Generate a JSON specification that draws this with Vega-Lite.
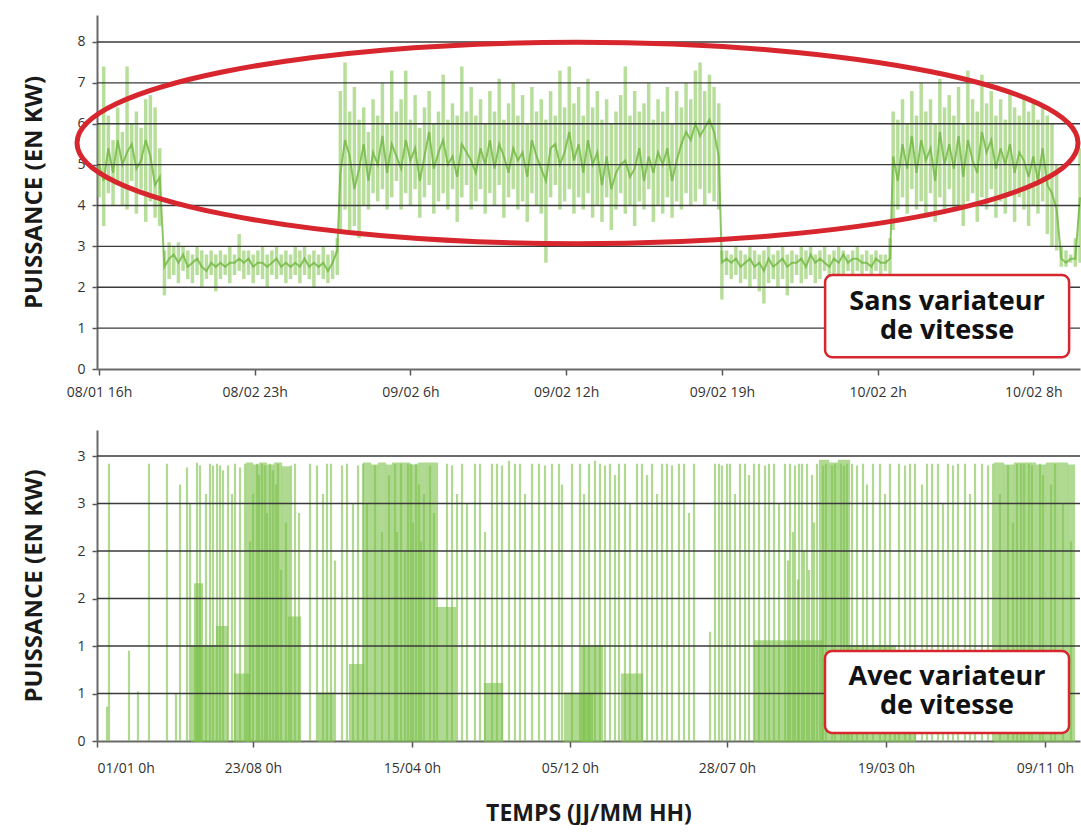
{
  "$schema": "https://vega.github.io/schema/vega-lite/v6.json",
  "padding": {"top": 15, "left": 22, "right": 0, "bottom": 0},
  "spacing": 31,
  "datasets": {
    "sans": [
      {"t":0,"lo":4.2,"hi":6.0,"v":5.0},{"t":3,"lo":3.5,"hi":7.4,"v":4.6},{"t":6,"lo":4.3,"hi":6.2,"v":5.4},{"t":9,"lo":4.0,"hi":5.6,"v":4.8},{"t":12,"lo":4.5,"hi":6.4,"v":5.6},{"t":15,"lo":4.0,"hi":5.8,"v":5.0},{"t":18,"lo":3.9,"hi":7.4,"v":5.3},{"t":21,"lo":4.6,"hi":6.0,"v":5.5},{"t":24,"lo":3.8,"hi":6.3,"v":4.9},{"t":27,"lo":4.4,"hi":5.9,"v":5.1},{"t":30,"lo":3.6,"hi":6.6,"v":5.6},{"t":33,"lo":4.1,"hi":6.7,"v":5.2},{"t":36,"lo":3.7,"hi":6.4,"v":4.5},{"t":39,"lo":3.5,"hi":5.4,"v":4.7},
      {"t":42,"lo":1.8,"hi":2.9,"v":2.5},{"t":45,"lo":2.2,"hi":3.1,"v":2.7},{"t":48,"lo":2.3,"hi":3.0,"v":2.8},{"t":51,"lo":2.1,"hi":3.1,"v":2.6},{"t":54,"lo":2.4,"hi":3.0,"v":2.8},{"t":57,"lo":2.2,"hi":2.9,"v":2.5},{"t":60,"lo":2.1,"hi":2.8,"v":2.6},{"t":63,"lo":2.3,"hi":3.0,"v":2.7},{"t":66,"lo":2.0,"hi":2.9,"v":2.5},{"t":69,"lo":2.2,"hi":2.8,"v":2.4},{"t":72,"lo":2.3,"hi":2.9,"v":2.6},{"t":75,"lo":1.9,"hi":2.8,"v":2.5},{"t":78,"lo":2.2,"hi":2.9,"v":2.6},{"t":81,"lo":2.3,"hi":2.8,"v":2.5},{"t":84,"lo":2.1,"hi":3.0,"v":2.6},{"t":87,"lo":2.3,"hi":2.8,"v":2.6},{"t":90,"lo":2.4,"hi":3.3,"v":2.7},{"t":93,"lo":2.2,"hi":2.9,"v":2.6},{"t":96,"lo":2.3,"hi":2.9,"v":2.7},{"t":99,"lo":2.1,"hi":2.8,"v":2.5},{"t":102,"lo":2.3,"hi":2.9,"v":2.6},{"t":105,"lo":2.2,"hi":3.0,"v":2.6},{"t":108,"lo":2.0,"hi":2.8,"v":2.5},{"t":111,"lo":2.3,"hi":2.9,"v":2.6},{"t":114,"lo":2.2,"hi":3.0,"v":2.7},{"t":117,"lo":2.3,"hi":2.8,"v":2.5},{"t":120,"lo":2.1,"hi":2.9,"v":2.6},{"t":123,"lo":2.2,"hi":2.8,"v":2.5},{"t":126,"lo":2.3,"hi":3.0,"v":2.6},{"t":129,"lo":2.1,"hi":2.9,"v":2.5},{"t":132,"lo":2.3,"hi":3.0,"v":2.7},{"t":135,"lo":2.2,"hi":2.8,"v":2.5},{"t":138,"lo":2.0,"hi":2.9,"v":2.6},{"t":141,"lo":2.3,"hi":2.8,"v":2.5},{"t":144,"lo":2.2,"hi":3.0,"v":2.6},{"t":147,"lo":2.1,"hi":2.8,"v":2.4},{"t":150,"lo":2.2,"hi":2.9,"v":2.6},{"t":153,"lo":2.3,"hi":3.2,"v":2.9},
      {"t":155,"lo":3.3,"hi":6.8,"v":4.8},{"t":158,"lo":3.9,"hi":7.5,"v":5.6},{"t":161,"lo":3.4,"hi":6.3,"v":5.2},{"t":164,"lo":3.5,"hi":6.9,"v":4.4},{"t":167,"lo":3.2,"hi":6.1,"v":4.9},{"t":170,"lo":4.0,"hi":6.4,"v":5.5},{"t":173,"lo":3.9,"hi":5.8,"v":4.6},{"t":176,"lo":4.3,"hi":6.6,"v":5.3},{"t":179,"lo":4.1,"hi":6.2,"v":5.0},{"t":182,"lo":4.4,"hi":7.0,"v":5.7},{"t":185,"lo":3.9,"hi":6.0,"v":4.8},{"t":188,"lo":4.2,"hi":7.3,"v":5.5},{"t":191,"lo":4.6,"hi":6.3,"v":5.2},{"t":194,"lo":3.9,"hi":6.6,"v":4.9},{"t":197,"lo":4.3,"hi":7.3,"v":5.6},{"t":200,"lo":4.0,"hi":6.1,"v":5.1},{"t":203,"lo":4.4,"hi":6.7,"v":5.4},{"t":206,"lo":3.7,"hi":5.9,"v":4.6},{"t":209,"lo":4.2,"hi":6.4,"v":5.2},{"t":212,"lo":4.5,"hi":6.8,"v":5.8},{"t":215,"lo":3.8,"hi":6.0,"v":4.9},{"t":218,"lo":4.1,"hi":6.3,"v":5.3},{"t":221,"lo":4.3,"hi":7.2,"v":5.6},{"t":224,"lo":3.9,"hi":6.1,"v":5.0},{"t":227,"lo":4.4,"hi":6.5,"v":5.2},{"t":230,"lo":3.6,"hi":6.2,"v":4.7},{"t":233,"lo":4.2,"hi":7.4,"v":5.5},{"t":236,"lo":4.5,"hi":6.3,"v":5.3},{"t":239,"lo":3.9,"hi":6.9,"v":5.1},{"t":242,"lo":4.1,"hi":6.2,"v":4.8},{"t":245,"lo":4.4,"hi":6.6,"v":5.4},{"t":248,"lo":3.8,"hi":6.0,"v":5.0},{"t":251,"lo":4.3,"hi":6.8,"v":5.6},{"t":254,"lo":4.0,"hi":6.3,"v":4.9},{"t":257,"lo":4.5,"hi":7.1,"v":5.5},{"t":260,"lo":3.7,"hi":6.1,"v":5.2},{"t":263,"lo":4.2,"hi":6.5,"v":4.8},{"t":266,"lo":4.4,"hi":7.0,"v":5.4},{"t":269,"lo":3.9,"hi":6.2,"v":5.1},{"t":272,"lo":4.1,"hi":6.7,"v":5.3},{"t":275,"lo":3.6,"hi":6.0,"v":4.7},{"t":278,"lo":4.3,"hi":6.9,"v":5.6},{"t":281,"lo":4.0,"hi":6.3,"v":5.2},{"t":284,"lo":3.8,"hi":6.6,"v":4.9},{"t":287,"lo":2.6,"hi":6.1,"v":4.6},{"t":290,"lo":4.2,"hi":6.8,"v":5.4},{"t":293,"lo":4.5,"hi":6.2,"v":5.5},{"t":296,"lo":3.9,"hi":7.3,"v":5.0},{"t":299,"lo":4.1,"hi":6.4,"v":5.3},{"t":302,"lo":4.4,"hi":7.4,"v":5.8},{"t":305,"lo":3.8,"hi":6.5,"v":5.1},{"t":308,"lo":4.2,"hi":6.9,"v":5.5},{"t":311,"lo":3.9,"hi":6.2,"v":4.8},{"t":314,"lo":4.3,"hi":7.1,"v":5.6},{"t":317,"lo":3.7,"hi":6.4,"v":5.0},{"t":320,"lo":4.0,"hi":6.8,"v":5.3},{"t":323,"lo":3.6,"hi":6.1,"v":4.5},{"t":326,"lo":4.2,"hi":6.6,"v":5.2},{"t":329,"lo":3.4,"hi":6.0,"v":4.4},{"t":332,"lo":3.9,"hi":6.3,"v":4.8},{"t":335,"lo":4.3,"hi":6.7,"v":5.0},{"t":338,"lo":3.8,"hi":7.4,"v":5.1},{"t":341,"lo":4.0,"hi":6.2,"v":4.7},{"t":344,"lo":3.5,"hi":6.8,"v":4.9},{"t":347,"lo":4.1,"hi":6.3,"v":5.4},{"t":350,"lo":3.9,"hi":6.5,"v":4.6},{"t":353,"lo":4.4,"hi":7.0,"v":5.2},{"t":356,"lo":3.6,"hi":6.1,"v":4.8},{"t":359,"lo":4.0,"hi":6.6,"v":5.3},{"t":362,"lo":3.8,"hi":6.3,"v":5.0},{"t":365,"lo":4.2,"hi":6.9,"v":5.4},{"t":368,"lo":3.7,"hi":6.0,"v":4.6},{"t":371,"lo":4.1,"hi":6.8,"v":5.1},{"t":374,"lo":3.9,"hi":6.4,"v":5.5},{"t":377,"lo":4.3,"hi":7.0,"v":5.8},{"t":380,"lo":4.0,"hi":6.6,"v":5.6},{"t":383,"lo":4.1,"hi":7.3,"v":6.0},{"t":386,"lo":4.4,"hi":7.5,"v":5.7},{"t":389,"lo":4.0,"hi":6.8,"v":5.9},{"t":392,"lo":4.3,"hi":7.2,"v":6.1},{"t":395,"lo":4.1,"hi":6.9,"v":5.8},{"t":398,"lo":3.9,"hi":6.5,"v":5.2},
      {"t":400,"lo":1.7,"hi":2.9,"v":2.6},{"t":403,"lo":2.3,"hi":2.9,"v":2.7},{"t":406,"lo":2.2,"hi":2.8,"v":2.6},{"t":409,"lo":2.3,"hi":3.0,"v":2.7},{"t":412,"lo":2.1,"hi":2.9,"v":2.5},{"t":415,"lo":2.2,"hi":2.8,"v":2.6},{"t":418,"lo":2.0,"hi":3.0,"v":2.7},{"t":421,"lo":2.2,"hi":2.9,"v":2.5},{"t":424,"lo":1.9,"hi":2.8,"v":2.6},{"t":427,"lo":1.6,"hi":2.9,"v":2.4},{"t":430,"lo":2.1,"hi":3.0,"v":2.7},{"t":433,"lo":2.2,"hi":2.8,"v":2.5},{"t":436,"lo":2.0,"hi":2.9,"v":2.6},{"t":439,"lo":2.2,"hi":3.0,"v":2.7},{"t":442,"lo":1.8,"hi":2.8,"v":2.5},{"t":445,"lo":2.1,"hi":2.9,"v":2.6},{"t":448,"lo":2.3,"hi":2.8,"v":2.6},{"t":451,"lo":2.1,"hi":3.0,"v":2.7},{"t":454,"lo":2.2,"hi":2.9,"v":2.5},{"t":457,"lo":2.3,"hi":3.0,"v":2.8},{"t":460,"lo":2.1,"hi":2.8,"v":2.6},{"t":463,"lo":2.2,"hi":2.9,"v":2.7},{"t":466,"lo":2.4,"hi":3.0,"v":2.6},{"t":469,"lo":2.2,"hi":2.8,"v":2.5},{"t":472,"lo":2.3,"hi":2.9,"v":2.7},{"t":475,"lo":2.1,"hi":3.0,"v":2.6},{"t":478,"lo":2.3,"hi":2.9,"v":2.8},{"t":481,"lo":2.4,"hi":2.8,"v":2.6},{"t":484,"lo":2.2,"hi":2.9,"v":2.7},{"t":487,"lo":2.4,"hi":3.0,"v":2.7},{"t":490,"lo":2.3,"hi":2.8,"v":2.6},{"t":493,"lo":2.4,"hi":2.9,"v":2.6},{"t":496,"lo":2.3,"hi":2.8,"v":2.5},{"t":499,"lo":2.4,"hi":2.9,"v":2.7},{"t":502,"lo":2.3,"hi":2.8,"v":2.6},{"t":505,"lo":2.4,"hi":2.8,"v":2.6},{"t":508,"lo":2.3,"hi":3.2,"v":2.7},
      {"t":510,"lo":3.4,"hi":6.3,"v":5.2},{"t":513,"lo":3.9,"hi":6.1,"v":4.6},{"t":516,"lo":4.2,"hi":6.6,"v":5.5},{"t":519,"lo":3.8,"hi":6.0,"v":4.9},{"t":522,"lo":4.4,"hi":6.8,"v":5.7},{"t":525,"lo":3.9,"hi":6.2,"v":4.8},{"t":528,"lo":4.1,"hi":7.0,"v":5.6},{"t":531,"lo":3.7,"hi":6.3,"v":5.1},{"t":534,"lo":4.3,"hi":6.6,"v":5.4},{"t":537,"lo":3.6,"hi":6.0,"v":4.6},{"t":540,"lo":4.2,"hi":7.1,"v":5.8},{"t":543,"lo":3.8,"hi":6.4,"v":5.0},{"t":546,"lo":4.4,"hi":6.7,"v":5.5},{"t":549,"lo":3.9,"hi":6.2,"v":4.9},{"t":552,"lo":4.0,"hi":6.9,"v":5.7},{"t":555,"lo":3.5,"hi":6.0,"v":4.7},{"t":558,"lo":4.1,"hi":7.3,"v":5.6},{"t":561,"lo":4.3,"hi":6.6,"v":5.1},{"t":564,"lo":3.6,"hi":6.3,"v":4.8},{"t":567,"lo":4.2,"hi":7.2,"v":5.8},{"t":570,"lo":3.9,"hi":6.5,"v":5.3},{"t":573,"lo":4.4,"hi":6.8,"v":5.6},{"t":576,"lo":3.7,"hi":6.2,"v":4.9},{"t":579,"lo":4.1,"hi":6.6,"v":5.4},{"t":582,"lo":3.8,"hi":6.1,"v":5.0},{"t":585,"lo":4.3,"hi":6.8,"v":5.5},{"t":588,"lo":3.6,"hi":6.4,"v":4.8},{"t":591,"lo":4.2,"hi":6.2,"v":5.3},{"t":594,"lo":3.9,"hi":6.7,"v":5.1},{"t":597,"lo":3.5,"hi":6.3,"v":4.7},{"t":600,"lo":4.0,"hi":6.5,"v":5.2},{"t":603,"lo":3.8,"hi":6.1,"v":4.6},{"t":606,"lo":4.1,"hi":6.4,"v":5.4},{"t":609,"lo":3.3,"hi":6.2,"v":4.5},{"t":612,"lo":3.0,"hi":6.0,"v":4.3},{"t":615,"lo":2.9,"hi":5.0,"v":3.9},
      {"t":618,"lo":2.5,"hi":3.0,"v":2.7},{"t":621,"lo":2.5,"hi":2.9,"v":2.6},{"t":624,"lo":2.6,"hi":2.8,"v":2.7},{"t":627,"lo":2.5,"hi":3.2,"v":2.7},{"t":630,"lo":2.6,"hi":5.4,"v":4.2}
    ],
    "avec": [
      {"s":12,"e":12,"v":0.36},{"s":14,"e":14,"v":2.92},{"s":34,"e":34,"v":0.95},{"s":43,"e":43,"v":0.52},{"s":54,"e":54,"v":2.92},{"s":72,"e":72,"v":2.92},{"s":81,"e":81,"v":0.5},{"s":85,"e":85,"v":2.7},{"s":92,"e":92,"v":2.88},{"s":95,"e":95,"v":2.5},
      {"s":97,"e":120,"v":1.0},{"s":100,"e":107,"v":1.65},
      {"s":102,"e":102,"v":2.93},{"s":105,"e":105,"v":2.9},{"s":111,"e":111,"v":2.6},{"s":115,"e":115,"v":2.92},{"s":118,"e":118,"v":2.9},{"s":122,"e":122,"v":2.92},{"s":125,"e":125,"v":2.9},{"s":128,"e":128,"v":2.85},
      {"s":122,"e":132,"v":1.2},{"s":133,"e":133,"v":2.9},{"s":137,"e":137,"v":2.6},{"s":140,"e":140,"v":2.92},{"s":140,"e":154,"v":0.7},{"s":145,"e":145,"v":2.88},{"s":150,"e":150,"v":2.92},
      {"s":152,"e":157,"v":2.92},{"s":159,"e":163,"v":2.9},{"s":165,"e":171,"v":2.92},{"s":173,"e":178,"v":2.9},{"s":180,"e":186,"v":2.92},{"s":188,"e":194,"v":2.88},
      {"s":162,"e":162,"v":2.92},{"s":167,"e":167,"v":2.92},{"s":170,"e":170,"v":2.9},{"s":175,"e":175,"v":2.92},{"s":178,"e":178,"v":2.85},{"s":183,"e":183,"v":2.92},
      {"s":155,"e":155,"v":2.1},{"s":158,"e":158,"v":2.6},{"s":164,"e":164,"v":2.8},{"s":172,"e":172,"v":2.4},{"s":181,"e":181,"v":2.7},{"s":186,"e":186,"v":1.8},{"s":191,"e":191,"v":2.3},
      {"s":194,"e":205,"v":1.3},{"s":196,"e":196,"v":2.9},{"s":200,"e":200,"v":2.92},{"s":204,"e":204,"v":2.4},
      {"s":215,"e":215,"v":2.92},{"s":222,"e":222,"v":2.9},{"s":228,"e":228,"v":2.6},{"s":232,"e":232,"v":2.92},{"s":236,"e":236,"v":2.92},{"s":240,"e":240,"v":1.9},{"s":247,"e":247,"v":2.9},{"s":252,"e":252,"v":2.92},{"s":258,"e":258,"v":2.5},{"s":263,"e":263,"v":2.9},{"s":268,"e":268,"v":2.92},{"s":224,"e":238,"v":0.5},{"s":255,"e":268,"v":0.8},
      {"s":269,"e":275,"v":2.92},{"s":277,"e":282,"v":2.9},{"s":284,"e":290,"v":2.92},{"s":292,"e":296,"v":2.9},{"s":298,"e":305,"v":2.92},{"s":307,"e":314,"v":2.92},{"s":316,"e":322,"v":2.9},{"s":324,"e":331,"v":2.92},{"s":333,"e":342,"v":2.92},
      {"s":302,"e":302,"v":2.2},{"s":306,"e":306,"v":2.92},{"s":310,"e":310,"v":2.0},{"s":313,"e":313,"v":2.92},{"s":318,"e":318,"v":2.3},{"s":321,"e":321,"v":2.92},{"s":326,"e":326,"v":2.1},{"s":329,"e":329,"v":2.6},
      {"s":272,"e":272,"v":2.5},{"s":280,"e":280,"v":2.9},{"s":287,"e":287,"v":2.2},{"s":294,"e":294,"v":2.8},{"s":300,"e":300,"v":2.92},{"s":316,"e":316,"v":2.92},{"s":324,"e":324,"v":2.7},{"s":335,"e":335,"v":2.9},{"s":339,"e":339,"v":2.4},
      {"s":352,"e":352,"v":2.92},{"s":357,"e":357,"v":2.9},{"s":362,"e":362,"v":2.6},{"s":367,"e":367,"v":2.92},{"s":372,"e":372,"v":2.5},{"s":380,"e":380,"v":2.92},{"s":385,"e":385,"v":2.92},{"s":390,"e":390,"v":2.2},{"s":397,"e":397,"v":2.92},{"s":402,"e":402,"v":2.92},{"s":407,"e":407,"v":2.9},{"s":414,"e":414,"v":2.95},{"s":420,"e":420,"v":2.92},{"s":425,"e":425,"v":2.92},{"s":430,"e":430,"v":2.6},{"s":437,"e":437,"v":2.92},{"s":444,"e":444,"v":2.92},{"s":450,"e":450,"v":2.9},{"s":457,"e":457,"v":2.92},{"s":464,"e":464,"v":2.92},{"s":467,"e":467,"v":2.7},{"s":477,"e":477,"v":2.92},{"s":485,"e":485,"v":2.92},{"s":489,"e":489,"v":2.6},
      {"s":342,"e":360,"v":1.4},{"s":390,"e":407,"v":0.6},{"s":470,"e":497,"v":0.5},
      {"s":494,"e":494,"v":2.92},{"s":500,"e":500,"v":2.95},{"s":505,"e":505,"v":2.92},{"s":510,"e":510,"v":2.9},{"s":515,"e":515,"v":2.92},{"s":520,"e":520,"v":2.8},{"s":524,"e":524,"v":2.92},{"s":530,"e":530,"v":2.92},{"s":535,"e":535,"v":2.5},{"s":542,"e":542,"v":2.92},{"s":547,"e":547,"v":2.92},{"s":552,"e":552,"v":2.8},{"s":557,"e":557,"v":2.92},{"s":562,"e":562,"v":2.6},{"s":567,"e":567,"v":2.92},{"s":572,"e":572,"v":2.92},{"s":577,"e":577,"v":2.9},{"s":584,"e":584,"v":2.92},{"s":589,"e":589,"v":2.92},{"s":594,"e":594,"v":2.4},{"s":599,"e":599,"v":2.92},
      {"s":487,"e":507,"v":1.0},{"s":527,"e":547,"v":0.7},
      {"s":615,"e":615,"v":1.15},
      {"s":620,"e":620,"v":2.92},{"s":624,"e":624,"v":2.92},{"s":627,"e":627,"v":2.9},{"s":632,"e":632,"v":2.92},{"s":635,"e":635,"v":2.92},{"s":640,"e":640,"v":2.6},{"s":645,"e":645,"v":2.92},{"s":650,"e":650,"v":2.92},{"s":654,"e":654,"v":2.8},{"s":659,"e":659,"v":2.92},{"s":664,"e":664,"v":2.92},{"s":670,"e":670,"v":2.9},{"s":674,"e":674,"v":2.92},{"s":679,"e":679,"v":2.92},{"s":684,"e":684,"v":2.5},{"s":690,"e":690,"v":2.92},{"s":695,"e":695,"v":2.92},{"s":700,"e":700,"v":2.9},{"s":704,"e":704,"v":2.92},{"s":707,"e":707,"v":2.92},{"s":712,"e":712,"v":2.92},{"s":717,"e":717,"v":2.8},{"s":722,"e":722,"v":2.92},
      {"s":660,"e":727,"v":1.05},{"s":693,"e":693,"v":1.9},{"s":698,"e":698,"v":2.2},{"s":703,"e":703,"v":1.7},{"s":709,"e":709,"v":2.0},{"s":714,"e":714,"v":1.8},{"s":719,"e":719,"v":2.3},
      {"s":725,"e":733,"v":2.95},{"s":735,"e":742,"v":2.92},{"s":744,"e":754,"v":2.95},
      {"s":728,"e":728,"v":2.9},{"s":731,"e":731,"v":2.92},{"s":737,"e":737,"v":2.9},{"s":740,"e":740,"v":2.92},{"s":746,"e":746,"v":2.92},{"s":749,"e":749,"v":2.9},{"s":752,"e":752,"v":2.92},
      {"s":757,"e":757,"v":2.92},{"s":762,"e":762,"v":2.9},{"s":768,"e":768,"v":2.92},{"s":772,"e":772,"v":2.7},{"s":778,"e":778,"v":2.92},{"s":785,"e":785,"v":2.92},{"s":790,"e":790,"v":2.6},{"s":795,"e":795,"v":2.92},{"s":754,"e":800,"v":1.0},
      {"s":804,"e":804,"v":2.92},{"s":810,"e":810,"v":2.9},{"s":815,"e":815,"v":2.92},{"s":820,"e":820,"v":2.92},{"s":827,"e":827,"v":2.7},{"s":832,"e":832,"v":2.92},{"s":837,"e":837,"v":2.92},{"s":843,"e":843,"v":2.92},{"s":848,"e":848,"v":2.5},{"s":853,"e":853,"v":2.92},{"s":858,"e":858,"v":2.9},{"s":863,"e":863,"v":2.92},{"s":870,"e":870,"v":2.92},{"s":875,"e":875,"v":2.6},{"s":880,"e":880,"v":2.92},{"s":887,"e":887,"v":2.92},{"s":893,"e":893,"v":2.9},{"s":898,"e":898,"v":2.92},{"s":800,"e":820,"v":0.6},
      {"s":900,"e":908,"v":2.92},{"s":910,"e":918,"v":2.9},{"s":920,"e":930,"v":2.92},{"s":932,"e":940,"v":2.92},{"s":942,"e":950,"v":2.9},{"s":952,"e":962,"v":2.92},{"s":964,"e":972,"v":2.92},{"s":974,"e":979,"v":2.9},
      {"s":926,"e":926,"v":2.92},{"s":929,"e":929,"v":2.92},{"s":934,"e":934,"v":2.92},{"s":937,"e":937,"v":2.9},{"s":945,"e":945,"v":2.92},{"s":948,"e":948,"v":2.8},
      {"s":905,"e":905,"v":2.6},{"s":913,"e":913,"v":2.9},{"s":918,"e":918,"v":2.3},{"s":922,"e":922,"v":2.92},{"s":956,"e":956,"v":2.7},{"s":960,"e":960,"v":2.92},{"s":968,"e":968,"v":2.5},{"s":976,"e":976,"v":2.1}
    ]
  },
  "config": {
    "view": {"stroke": null},
    "axis": {
      "grid": false,
      "labelFont": "Open Sans", "labelFontSize": 14, "labelColor": "#333333",
      "domainColor": "#6a6a6a", "domainWidth": 2,
      "tickColor": "#555555", "tickWidth": 1.5, "tickSize": 6,
      "titleFont": "Open Sans", "titleFontWeight": "bold", "titleFontSize": 24, "titleColor": "#1a1a1a"
    }
  },
  "vconcat": [
    {
      "width": 983, "height": 354,
      "layer": [
        {
          "data": {"name": "sans"},
          "mark": {"type": "rule", "color": "#7dc24b", "opacity": 0.55, "strokeWidth": 3.5},
          "encoding": {
            "x": {"field": "t", "type": "quantitative", "scale": {"domain": [-1.3, 630], "nice": false, "zero": false},
                  "axis": {"title": null, "values": [0,100,200,300,400,500,600], "labelPadding": 10,
                           "labelExpr": "['08/01 16h','08/02 23h','09/02 6h','09/02 12h','09/02 19h','10/02 2h','10/02 8h'][round(datum.value/100)]"}},
            "y": {"field": "lo", "type": "quantitative", "scale": {"domain": [0, 8.66], "nice": false},
                  "axis": {"title": "PUISSANCE (EN KW)", "values": [0,1,2,3,4,5,6,7,8], "tickSize": 5, "labelPadding": 7, "titlePadding": 30}},
            "y2": {"field": "hi"}
          }
        },
        {
          "data": {"name": "sans"},
          "mark": {"type": "line", "color": "#6fb63f", "opacity": 0.8, "strokeWidth": 2},
          "encoding": {
            "x": {"field": "t", "type": "quantitative", "scale": {"domain": [-1.3, 630], "nice": false, "zero": false}},
            "y": {"field": "v", "type": "quantitative"}
          }
        },
        {
          "data": {"values": [{"g":1},{"g":2},{"g":3},{"g":4},{"g":5},{"g":6},{"g":7},{"g":8}]},
          "mark": {"type": "rule", "color": "#3a3a3a", "strokeWidth": 1.4},
          "encoding": {"y": {"field": "g", "type": "quantitative"}}
        },
        {
          "data": {"values": [{"cx": 307.3, "cy": 5.53}]},
          "mark": {"type": "point", "filled": false, "stroke": "#d7262e", "strokeWidth": 5, "opacity": 1, "size": 1002000,
                   "shape": "M -1 0 A 1 0.2012 0 1 1 1 0 A 1 0.2012 0 1 1 -1 0 Z"},
          "encoding": {
            "x": {"field": "cx", "type": "quantitative"},
            "y": {"field": "cy", "type": "quantitative"}
          }
        },
        {
          "data": {"values": [{"x1": 466.3, "x2": 623.0, "y1": 0.29, "y2": 2.30, "tx": 544.6, "ty": 1.64, "label": "Sans variateur\nde vitesse"}]},
          "layer": [
            {
              "mark": {"type": "rect", "fill": "white", "stroke": "#d7262e", "strokeWidth": 2.5, "cornerRadius": 7},
              "encoding": {
                "x": {"field": "x1", "type": "quantitative"}, "x2": {"field": "x2"},
                "y": {"field": "y1", "type": "quantitative"}, "y2": {"field": "y2"}
              }
            },
            {
              "mark": {"type": "text", "font": "Open Sans", "fontWeight": "bold", "fontSize": 27, "color": "#111111",
                       "align": "center", "baseline": "middle", "lineBreak": "\n", "lineHeight": 29},
              "encoding": {
                "x": {"field": "tx", "type": "quantitative"},
                "y": {"field": "ty", "type": "quantitative"},
                "text": {"field": "label"}
              }
            }
          ]
        }
      ]
    },
    {
      "width": 983, "height": 311,
      "layer": [
        {
          "data": {"name": "avec"},
          "mark": {"type": "rect", "fill": "#7dc24b", "stroke": "#7dc24b", "strokeWidth": 2.2, "opacity": 0.6},
          "encoding": {
            "x": {"field": "s", "type": "quantitative", "scale": {"domain": [2, 985], "nice": false, "zero": false},
                  "axis": {"title": "TEMPS (JJ/MM HH)", "titleFontSize": 23, "values": [2,158,317,475,632,791,950], "labelPadding": 14, "titlePadding": 27,
                           "labelExpr": "['01/01 0h','23/08 0h','15/04 0h','05/12 0h','28/07 0h','19/03 0h','09/11 0h'][round(datum.value/158.3)]"}},
            "x2": {"field": "e"},
            "y": {"field": "v", "type": "quantitative", "scale": {"domain": [0, 3.274], "nice": false},
                  "axis": {"title": "PUISSANCE (EN KW)", "values": [0,0.5,1,1.5,2,2.5,3], "labelExpr": "'' + round(datum.value)", "tickSize": 5, "labelPadding": 7, "titlePadding": 30}},
            "y2": {"datum": 0}
          }
        },
        {
          "data": {"values": [{"g":0.5},{"g":1},{"g":1.5},{"g":2},{"g":2.5},{"g":3}]},
          "mark": {"type": "rule", "color": "#3a3a3a", "strokeWidth": 1.4},
          "encoding": {"y": {"field": "g", "type": "quantitative"}}
        },
        {
          "data": {"values": [{"x1": 730, "x2": 974, "y1": 0.084, "y2": 0.947, "tx": 852, "ty": 0.674, "label": "Avec variateur\nde vitesse"}]},
          "layer": [
            {
              "mark": {"type": "rect", "fill": "white", "stroke": "#d7262e", "strokeWidth": 2.5, "cornerRadius": 7},
              "encoding": {
                "x": {"field": "x1", "type": "quantitative"}, "x2": {"field": "x2"},
                "y": {"field": "y1", "type": "quantitative"}, "y2": {"field": "y2"}
              }
            },
            {
              "mark": {"type": "text", "font": "Open Sans", "fontWeight": "bold", "fontSize": 27, "color": "#111111",
                       "align": "center", "baseline": "middle", "lineBreak": "\n", "lineHeight": 29},
              "encoding": {
                "x": {"field": "tx", "type": "quantitative"},
                "y": {"field": "ty", "type": "quantitative"},
                "text": {"field": "label"}
              }
            }
          ]
        }
      ]
    }
  ]
}
